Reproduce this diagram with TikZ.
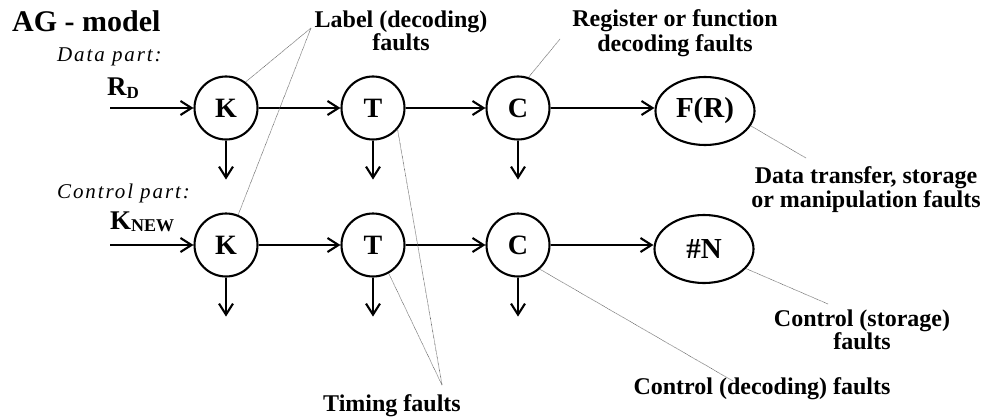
\documentclass[tikz,border=0pt]{standalone}
\usepackage{fontspec}
\setmainfont{Liberation Serif}
\newfontfamily\partfont[LetterSpace=9]{Liberation Serif Italic}
\usetikzlibrary{arrows.meta,shapes.geometric,calc}

\begin{document}
\begin{tikzpicture}[x=1pt,y=-1pt,
  stage/.style={circle,draw,line width=2.1pt,minimum size=63pt,inner sep=0pt,
    font=\fontsize{28}{28}\selectfont\bfseries},
  store/.style={ellipse,draw,line width=2.1pt,minimum width=99pt,minimum height=68pt,
    inner sep=0pt,font=\fontsize{29}{29}\selectfont\bfseries},
  flow/.style={line width=2.1pt,-{Straight Barb[length=11pt,width=14pt]}},
  lead/.style={black!65,line width=0.6pt,dash pattern=on 0.6pt off 0.6pt},
  note/.style={font=\fontsize{24}{24}\selectfont\bfseries,align=center,inner sep=0pt},
  part/.style={font=\fontsize{21}{21}\selectfont\partfont,inner sep=0pt,anchor=base west},
  sig/.style={font=\fontsize{27}{27}\selectfont\bfseries,inner sep=0pt,anchor=base west}
]
\useasboundingbox (0,0) rectangle (987,417);

% title and row captions
\node[font=\fontsize{30}{30}\selectfont\bfseries,inner sep=0pt,anchor=base west] (title) at (12,32) {AG - model};
\node[part] (dpart) at (57,62) {Data part:};
\node[part] (cpart) at (57,198) {Control part:};
\node[sig] (rd) at (107,96) {R\raisebox{-2pt}{\fontsize{17}{17}\selectfont D}};
\node[sig] (knew) at (110,229) {K\raisebox{-2pt}{\fontsize{18}{18}\selectfont NEW}};

% data part
\node[stage] (K1) at (226,108) {K};
\node[stage] (T1) at (373,108) {T};
\node[stage] (C1) at (518,108) {C};
\node[store] (FR) at (705,111) {F(R)};

% control part
\node[stage] (K2) at (226,245) {K};
\node[stage] (T2) at (373,245) {T};
\node[stage] (C2) at (518,245) {C};
\node[store] (NN) at (704,249) {\#N};

% inputs and outputs
\coordinate (inD) at (110,108);
\coordinate (inK) at (110,245);
\draw[flow] (inD) -- (K1);
\draw[flow] (inK) -- (K2);
\draw[flow] (K1) -- (T1);
\draw[flow] (T1) -- (C1);
\draw[flow] (C1.east) -- (C1.east -| FR.west);
\draw[flow] (K2) -- (T2);
\draw[flow] (T2) -- (C2);
\draw[flow] (C2.east) -- (C2.east -| NN.west);
\foreach \n in {K1,T1,C1,K2,T2,C2}{
  \coordinate (\n out) at ($(\n.south)+(0,39)$);
  \draw[flow] (\n.south) -- (\n out);
}

% fault labels
\node[note,anchor=north] (lab) at (401,11) {Label (decoding)\\[-1pt]faults};
\node[note,anchor=north] (reg) at (675,9) {Register or function\\[1pt]decoding faults};
\node[note,anchor=north] (dat) at (866,166) {Data transfer, storage\\[0pt]or manipulation faults};
\node[note,anchor=north] (cst) at (862,310) {Control (storage)\\[-1pt]faults};
\node[note,anchor=base] (cdec) at (762,394) {Control (decoding) faults};
\node[note,anchor=base] (tim) at (392,411) {Timing faults};

% leader lines
\coordinate (labP) at (311,28);
\coordinate (regP) at (560,39);
\coordinate (datP) at (806,158);
\coordinate (timP) at (442,385);
\coordinate (cdecP) at (733,381);
\coordinate (cstP) at (828,304);
\draw[lead] (labP) -- (K1.53);
\draw[lead] (labP) -- (K2.68);
\draw[lead] (regP) -- (C1.71);
\draw[lead] (FR.-18) -- (datP);
\draw[lead] (timP) -- (T1.-41);
\draw[lead] (timP) -- (T2.-61);
\draw[lead] (C2.-48) -- (cdecP);
\draw[lead] (NN.-25) -- (cstP);
\end{tikzpicture}
\end{document}
